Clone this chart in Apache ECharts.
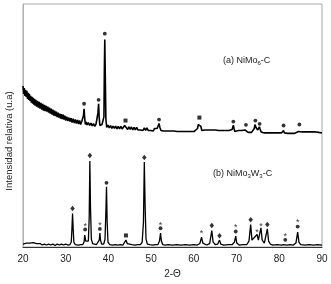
<!DOCTYPE html>
<html><head><meta charset="utf-8">
<script src="https://cdn.jsdelivr.net/npm/echarts@6/dist/echarts.min.js"></script>
<style>html,body{margin:0;padding:0;background:#fff}#c{width:331px;height:284px}</style>
</head><body><div id="c"></div>
<script>
var xTicks = [20, 30, 40, 50, 60, 70, 80, 90];
var seriesNames = ['(a) NiMo6-C', '(b) NiMo3W3-C'];
// Series (a): NiMo6-C (offset upward in the figure)
var patternA = [[20,163],[20.15,155],[20.3,161],[20.45,153],[20.6,159],[20.75,152],[20.9,158],[21.05,150],[21.2,156],[21.35,149],[21.5,155],[21.65,148],[21.8,153],[21.95,146],[22.1,152],[22.25,145],[22.4,151],[22.55,144],[22.7,150],[22.85,143],[23,149],[23.2,142],[23.4,148],[23.6,141],[23.8,147],[24,140],[24.2,146],[24.4,139],[24.6,145],[24.8,138],[25,144],[25.2,137.5],[25.4,143],[25.6,137],[25.8,142],[26,136],[26.2,141],[26.4,135],[26.6,140],[26.8,134],[27,139],[27.2,133],[27.4,138],[27.6,132.5],[27.8,137],[28,131.5],[28.2,136],[28.4,131],[28.6,135],[28.8,130],[29,134.5],[29.2,129.5],[29.4,134],[29.6,129],[29.8,133],[30,128],[30.25,132],[30.5,127.5],[30.75,131],[31,127],[31.25,130.5],[31.5,126],[31.75,130],[32,125.5],[32.25,129],[32.5,125],[32.75,128.5],[33,124.5],[33.25,128],[33.5,124],[33.75,127],[34.0,125],[34.15,133],[34.3,140],[34.45,130],[34.6,124],[34.8,126.5],[35,123.5],[35.3,126],[35.6,123],[35.9,125.5],[36.2,122.5],[36.5,125],[36.8,122],[37.1,124.5],[37.4,123],[37.55,136],[37.7,145],[37.82,132],[38,123],[38.2,121.5],[38.5,124],[38.75,122],[38.95,132],[39.05,180],[39.15,210],[39.25,178],[39.4,130],[39.6,121],[39.9,123.5],[40.2,120.5],[40.5,123],[40.8,120],[41.1,122.5],[41.4,120],[41.7,122.5],[42,119.5],[42.3,122],[42.6,119.5],[42.9,122],[43.2,119.5],[43.5,121.5],[43.8,123],[44.0,124.5],[44.2,121],[44.5,119],[44.8,121.5],[45.1,119],[45.4,121.5],[45.7,118.5],[46,121],[46.3,118.5],[46.6,121],[46.9,118.5],[47.2,120.5],[47.5,118.5],[47.8,120.5],[48.1,118],[48.4,120.5],[48.7,118],[49,120.5],[49.3,118],[49.6,120],[49.9,118],[50.2,120],[50.5,117.5],[50.8,120],[51.1,118],[51.4,120],[51.65,122],[51.85,125],[52.05,121],[52.3,118],[52.6,119.5],[52.9,117.5],[53.3,119.5],[53.7,117.5],[54.1,119.5],[54.5,117.5],[54.9,119.5],[55.3,117.5],[55.7,119],[56.1,117],[56.5,119],[56.9,117],[57.3,119],[57.7,117],[58.1,119],[58.5,117],[58.9,119],[59.3,117],[59.7,119],[60.1,117],[60.5,119],[60.85,120],[61.05,124],[61.2,126],[61.35,123.5],[61.5,126],[61.65,122],[61.85,118],[62.2,116.5],[62.6,118.5],[63,116.5],[63.4,118.5],[63.8,116.5],[64.2,118.5],[64.6,116.5],[65,118.5],[65.4,116.5],[65.8,118],[66.2,116.5],[66.6,118],[67,116.5],[67.4,118],[67.8,116],[68.2,118],[68.6,116.5],[68.95,119],[69.1,121],[69.25,123.3],[69.4,120],[69.6,117],[70,116],[70.4,118],[70.8,116],[71.2,118],[71.6,116],[71.95,118.5],[72.15,119.5],[72.35,117],[72.7,116],[73.1,118],[73.5,116],[73.9,118],[74.15,120],[74.3,124],[74.4,125],[74.55,121],[74.75,119],[74.95,118.5],[75.2,120],[75.35,121.7],[75.5,119.5],[75.75,116.5],[76.1,117.5],[76.5,115.5],[76.9,117.5],[77.3,115.5],[77.7,117.5],[78.1,115.5],[78.5,117.5],[78.9,115.5],[79.3,117],[79.7,115.5],[80.1,117],[80.5,115.5],[80.85,117],[81.0,118],[81.2,115.5],[81.6,117],[82,115],[82.4,117],[82.8,115],[83.2,117],[83.6,115],[84,116.5],[84.45,117],[84.7,119],[84.9,115.5],[85.3,116.5],[85.7,115],[86.1,116.5],[86.5,115],[86.9,116.5],[87.3,115],[87.7,116.5],[88.1,115],[88.5,116.5],[88.9,115],[89.3,116],[89.7,115],[90,115.5]];
// Series (b): NiMo3W3-C
var patternB = [[20,3],[20.4,2],[20.8,4],[21.2,2.5],[21.6,4],[22,3],[22.4,4.5],[22.8,2.5],[23.2,3.5],[23.6,2],[24,3.5],[24.5,2],[25,3],[25.5,2],[26,3],[26.5,2],[27,3],[27.5,1.5],[28,3],[28.5,2],[29,3],[29.5,2],[30,3],[30.5,2],[31,2.5],[31.3,5],[31.45,18],[31.6,34],[31.75,18],[31.9,5],[32.2,2.5],[32.6,3],[33,2],[33.5,2.5],[34,2.5],[34.3,5],[34.45,12],[34.55,13.3],[34.7,6],[34.95,4],[35.3,6],[35.5,30],[35.65,87],[35.8,40],[36,8],[36.3,3.5],[36.7,2.5],[37.2,2.5],[37.6,3],[37.85,7],[38,14],[38.15,7],[38.4,3],[38.9,3],[39.2,8],[39.4,35],[39.55,61],[39.7,25],[39.9,5],[40.3,2.5],[41,2],[41.6,2.5],[42.2,2],[42.8,2.5],[43.4,2],[43.8,3.5],[44.1,7],[44.4,3.5],[44.8,2],[45.5,2.5],[46.2,2],[46.9,2.5],[47.5,2.5],[47.9,5],[48.2,25],[48.4,86],[48.6,40],[48.8,8],[49.1,3],[49.7,2.5],[50.4,2],[51,2.5],[51.6,2.5],[51.95,6],[52.2,14],[52.4,6],[52.7,2.5],[53.3,2],[54,2.5],[55,2],[56,2.5],[57,2],[58,2.5],[59,2],[60,2.5],[60.8,2],[61.4,3.5],[61.8,10],[62.1,4],[62.5,2.5],[63,2],[63.7,3.5],[64.2,16.7],[64.5,5],[65,2.5],[65.6,3],[66,7],[66.3,3],[67,2],[68,2.5],[69,2.5],[69.5,5],[69.8,11],[70.05,4],[70.6,2],[71.5,2.5],[72.4,2.5],[72.9,6],[73.3,22.7],[73.6,7],[73.9,5],[74.8,12.7],[75.1,7],[75.4,9],[75.7,19.3],[76,7],[76.5,4],[77.2,18.3],[77.5,6],[77.9,3],[78.5,2],[79.5,2.5],[80.5,2],[81,2.5],[81.4,3.5],[81.8,2],[82.5,2.5],[83.3,2],[83.9,4],[84.3,15],[84.6,5],[85,2.5],[86,2],[87,2.5],[88,2],[89,2.5],[90,2]];
// phase markers
var circleMarks = [[34.3,145],[37.7,149],[39.15,216],[51.85,129],[69.25,127],[72.2,123.7],[74.4,128],[75.4,124.7],[81.0,123],[84.7,124],[34.55,17.7],[38.0,18.3],[39.55,65],[52.2,19],[69.8,15.7],[81.4,7.3],[84.3,20.7]];
var squareMarks = [[44.0,128],[61.3,131],[44.1,11.7]];
var diamondMarks = [[31.6,39],[35.65,92.7],[48.4,90.7],[64.2,21.7],[66.0,11.3],[73.3,27.7],[77.2,22.7]];
var starMarks = [[34.55,23],[38.0,23.5],[52.2,24],[61.8,16],[69.8,21.5],[74.8,16.5],[75.7,23],[81.4,13],[84.3,26.5]];

var chart = echarts.init(document.getElementById('c'), null, {renderer:'canvas'});
var FF = 'Liberation Sans, Arial, sans-serif';
chart.setOption({
  animation:false,
  backgroundColor:'#fff',
  grid:{left:23,right:9,top:4,bottom:34,show:true,borderColor:'#a8a8a8',borderWidth:1,backgroundColor:'transparent'},
  xAxis:{type:'value',min:xTicks[0],max:xTicks[xTicks.length-1],interval:10,
    axisLine:{lineStyle:{color:'#333',width:1}},axisTick:{show:false},splitLine:{show:false},
    axisLabel:{color:'#222',fontSize:10,fontFamily:FF,margin:7},
    name:'2-Θ',nameLocation:'middle',nameGap:22,nameTextStyle:{color:'#222',fontSize:10,fontFamily:FF}},
  yAxis:{type:'value',min:0,max:246,axisLine:{show:true,lineStyle:{color:'#b0b0b0'}},axisTick:{show:false},axisLabel:{show:false},splitLine:{show:false}},
  graphic:[
    {type:'text',x:9,y:141,rotation:Math.PI/2,style:{text:'Intensidad relativa (u.a)',fill:'#222',font:'9.5px '+FF,textAlign:'center',textVerticalAlign:'middle'}},
    {type:'text',left:223,top:56,style:{text:'(a) NiMo{s|6}-C',rich:{s:{fontSize:6,verticalAlign:'bottom',padding:[5,0,0,0],fontFamily:FF,fill:'#222'}},fill:'#222',font:'9px '+FF}},
    {type:'text',left:213,top:169,style:{text:'(b) NiMo{s|3}W{s|3}-C',rich:{s:{fontSize:6,verticalAlign:'bottom',padding:[5,0,0,0],fontFamily:FF,fill:'#222'}},fill:'#222',font:'9px '+FF}}
  ],
  series:[
    {name:seriesNames[0],type:'line',data:patternA,showSymbol:false,lineStyle:{color:'#000',width:1.6},z:3},
    {name:seriesNames[1],type:'line',data:patternB,showSymbol:false,lineStyle:{color:'#000',width:1.3},z:3},
    {type:'scatter',data:circleMarks,symbol:'circle',symbolSize:3.8,itemStyle:{color:'#000'},z:4},
    {type:'scatter',data:squareMarks,symbol:'rect',symbolSize:4,itemStyle:{color:'#000'},z:4},
    {type:'scatter',data:diamondMarks,symbol:'diamond',symbolSize:[4.5,5.5],itemStyle:{color:'#000'},z:4},
    {type:'scatter',data:starMarks,symbol:'circle',symbolSize:0.1,itemStyle:{color:'transparent'},
      label:{show:true,formatter:'*',position:'inside',color:'#000',fontSize:9,fontFamily:FF,offset:[0,2]},z:4}
  ]
});
</script></body></html>
